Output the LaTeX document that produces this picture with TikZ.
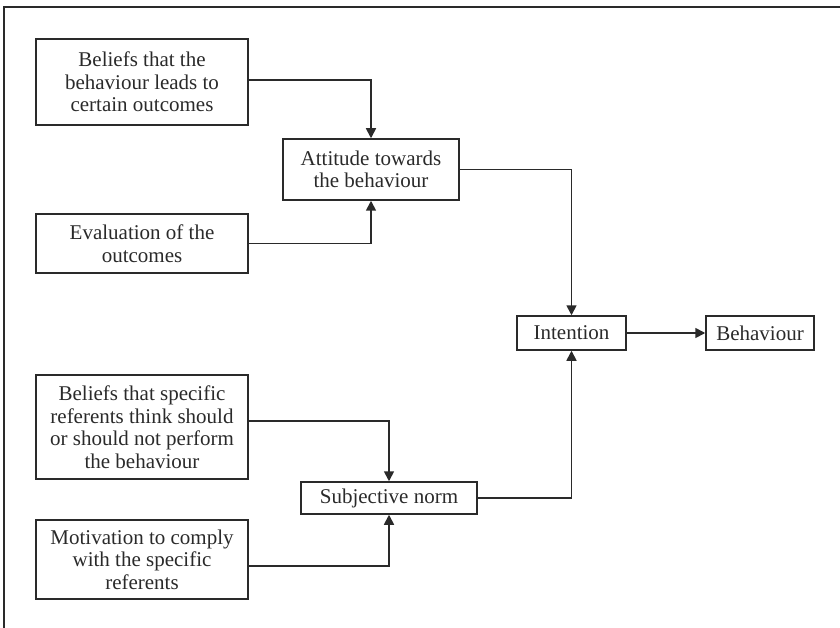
\documentclass[tikz,border=0pt]{standalone}
\usepackage{fontspec}
\setmainfont{Liberation Serif}
\usetikzlibrary{arrows.meta}
\definecolor{ink}{HTML}{2A2A2A}
\begin{document}
\begin{tikzpicture}[x=1pt,y=-1pt,
  box/.style={draw=ink,line width=1.5pt,align=center,inner sep=0pt,
    font=\fontsize{21}{22.5}\selectfont,text=ink},
  conn/.style={draw=ink,line width=1.7pt,-{Triangle[length=10pt,width=10pt]}}]
\useasboundingbox (0,0) rectangle (840,628);
\draw[ink,line width=1.5pt] (4,628) -- (4,7) -- (840,7);
\node[box,minimum width=212pt,minimum height=86pt] (b1) at (142,82) {Beliefs that the\\behaviour leads to\\certain outcomes};
\node[box,minimum width=212pt,minimum height=59pt] (b2) at (142,243.5) {Evaluation of the\\outcomes};
\node[box,minimum width=212pt,minimum height=104pt] (b3) at (142,427) {Beliefs that specific\\referents think should\\or should not perform\\the behaviour};
\node[box,minimum width=212pt,minimum height=79pt] (b4) at (142,559.5) {Motivation to comply\\with the specific\\referents};
\node[box,minimum width=176pt,minimum height=61pt] (att) at (371,169.5) {Attitude towards\\the behaviour};
\node[box,minimum width=176pt,minimum height=32pt] (sn) at (389,498) {Subjective norm};
\node[box,minimum width=109pt,minimum height=34pt] (int) at (571.5,333) {Intention};
\node[box,minimum width=108pt,minimum height=34pt] (beh) at (760,333) {Behaviour};
\draw[conn] ([yshift=2pt]b1.east) -| (att.north);
\draw[conn] (b2.east) -| (att.south);
\draw[conn] (att.east) -| (int.north);
\draw[conn] (int.east) -- (beh.west);
\draw[conn] ([yshift=6pt]b3.east) -| (sn.north);
\draw[conn] ([yshift=-6.5pt]b4.east) -| (sn.south);
\draw[conn] (sn.east) -| (int.south);
\end{tikzpicture}
\end{document}
